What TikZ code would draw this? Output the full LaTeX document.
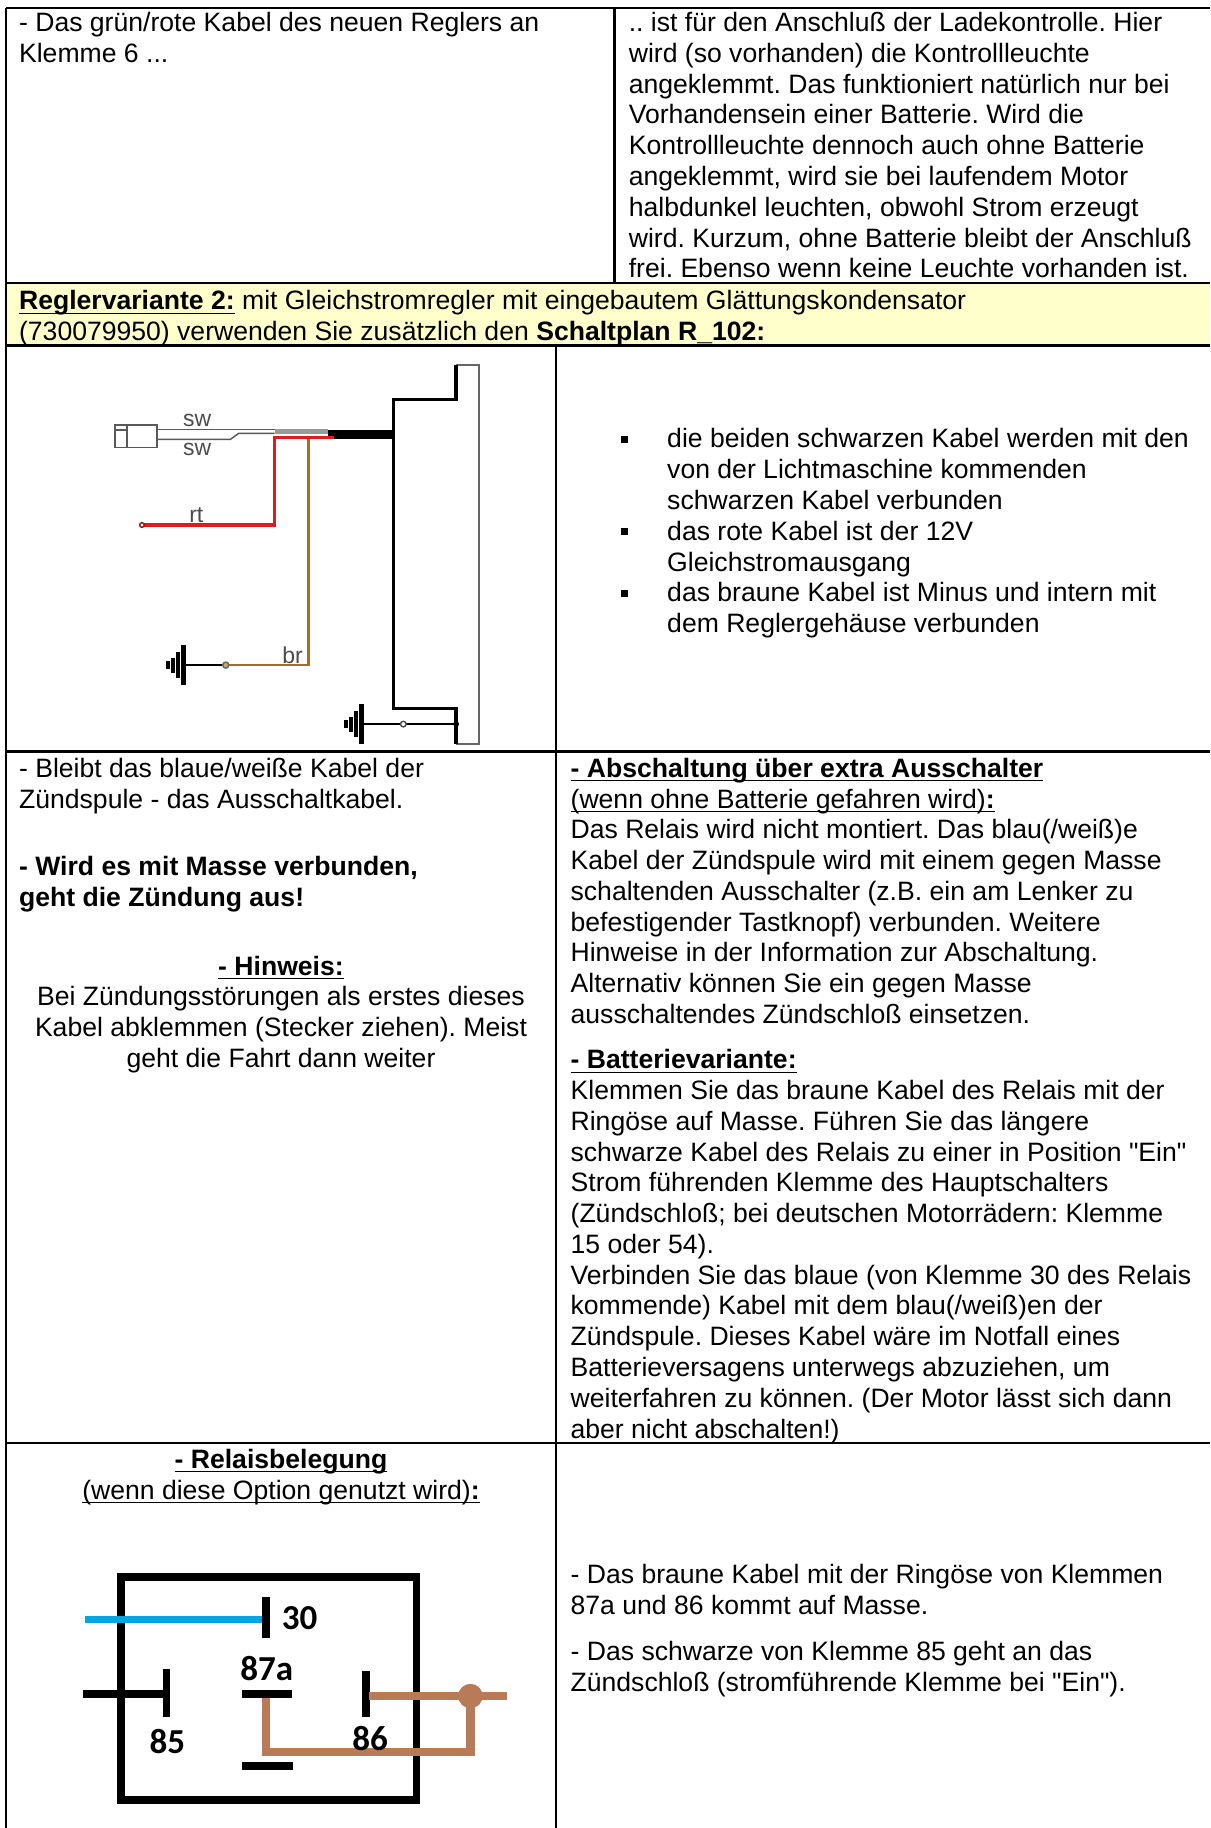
\documentclass[tikz,border=0pt]{standalone}
\usepackage{fontspec}
\setmainfont{Liberation Sans}[Ligatures=TeXOff]
\newfontfamily\relayfont{Carlito}
\usepackage{xcolor}
\usepackage{tikz}

\definecolor{gelbbg}{HTML}{FFFFCC}
\definecolor{kabelblau}{HTML}{00A2E8}
\definecolor{kabelbraun}{RGB}{185,122,87}
\definecolor{drahtrot}{HTML}{DD1C1C}
\definecolor{drahtbraun}{HTML}{A0702A}

\newcommand\ulx[1]{\underline{\smash{#1}}}
\newcommand\dreipunkt{...}
\newcommand\gz{\char34{}}
\frenchspacing

\tikzset{
    txt/.style={inner sep=0pt, font=\fontsize{11}{12.65}\selectfont},
    rahmen/.style={line width=1pt},
    bullet/.style={fill=black, inner sep=0pt, minimum size=2.8pt},
    schlabel/.style={inner sep=0pt, font=\fontsize{9.5}{11}\selectfont, text=black!70},
    relaylabel/.style={inner sep=0pt, font=\relayfont\bfseries\fontsize{14.5}{16}\selectfont},
    relaybar/.style={line width=3.2pt},
    braun/.style={kabelbraun, line width=3.4pt}
}

\begin{document}
\begin{tikzpicture}[x=0.4815pt, y=-0.4815pt]

        \newcommand\lsk{26.45}

        % Textzeilen: Name, x, erste Grundlinie, Anker, Zeilen
        \newcommand{\textrows}[5]{
            \foreach \zeile [count=\i from 0] in {#5}
                \node[txt, anchor=#4] (#1-\i) at (#2, #3+\i*\lsk) {\zeile};
        }

        % Massesymbol (liegend)
        \newcommand{\massesym}[2]{
            \draw[line width=2pt] (#1,#2-17) -- (#1,#2+17);
            \draw[line width=1.8pt] (#1-5,#2-11.5) -- (#1-5,#2+11.5);
            \draw[line width=1.6pt] (#1-9.5,#2-6.5) -- (#1-9.5,#2+6.5);
            \draw[line width=1.4pt] (#1-13.5,#2-3.5) -- (#1-13.5,#2+3.5);
        }

        \useasboundingbox (0,0) rectangle (1040,1571);
        \fill[white] (0,0) rectangle (1040,1571);

        % Tabelle
        \fill[gelbbg] (5,243) rectangle (1040,297);
        \draw[rahmen] (5,7) -- (1040,7);
        \draw[rahmen] (5,243) -- (1040,243);
        \draw[rahmen] (5,297) -- (1040,297);
        \draw[rahmen] (5,646) -- (1040,646);
        \draw[rahmen] (5,1240) -- (1040,1240);
        \draw[rahmen] (5,7) -- (5,1571);
        \draw[rahmen] (528,7) -- (528,243);
        \draw[rahmen] (478,297) -- (478,1571);

        % Zeile 1
        \textrows{zlinks}{16}{27.2}{base west}{
            {- Das grün/rote Kabel des neuen Reglers an},
            {Klemme 6 \dreipunkt}}
        \textrows{zrechts}{540}{27.2}{base west}{
            {.. ist für den Anschluß der Ladekontrolle. Hier},
            {wird (so vorhanden) die Kontrollleuchte},
            {angeklemmt. Das funktioniert natürlich nur bei},
            {Vorhandensein einer Batterie. Wird die},
            {Kontrollleuchte dennoch auch ohne Batterie},
            {angeklemmt, wird sie bei laufendem Motor},
            {halbdunkel leuchten, obwohl Strom erzeugt},
            {wird. Kurzum, ohne Batterie bleibt der Anschluß},
            {frei. Ebenso wenn keine Leuchte vorhanden ist.}}

        % gelbe Zeile
        \textrows{variante}{16}{266.4}{base west}{
            {\textbf{\ulx{Reglervariante 2:}} mit Gleichstromregler mit eingebautem Glättungskondensator},
            {(730079950) verwenden Sie zusätzlich den \textbf{Schaltplan R\_102:}}}

        % Schaltplan R_102
        \draw[black!60, line width=0.8pt] (392,313.7) -- (412,313.7) -- (412,639) -- (392,639);
        \draw[line width=1.5pt] (392,313.7) -- (392,343.2) -- (338.3,343.2) -- (338.3,608.8)
            -- (392,608.8) -- (392,639);
        \draw[black!65, line width=0.7pt] (98.8,365.3) rectangle (135,384.5);
        \draw[black!65, line width=0.7pt] (109,365.3) -- (109,384.5);
        \draw[black!65, line width=0.7pt] (98.8,369.6) -- (109,369.6);
        \draw[black!65, line width=0.6pt] (135,369) -- (236,369);
        \draw[black!65, line width=0.6pt] (135,377.6) -- (198,377.6) -- (205,372.5) -- (236,372.5);
        \draw[black!40, line width=2pt] (236,371) -- (282,371);
        \draw[line width=3.8pt] (282,373.5) -- (338.3,373.5);
        \draw[drahtrot, line width=1.5pt] (287,376) -- (236,376) -- (236,451.2) -- (124,451.2);
        \draw[drahtrot!70!black, line width=0.6pt, fill=white] (122,451.2) circle (2);
        \draw[drahtbraun, line width=1pt] (265,377) -- (265,571.6) -- (196.5,571.6);
        \draw[line width=1pt] (191.5,571.6) -- (158,571.6);
        \draw[black!60, line width=0.6pt, fill=drahtbraun!60] (194,571.6) circle (2.6);
        \massesym{158}{571.6}
        \draw[line width=0.8pt] (311,622.3) -- (392,622.3);
        \draw[black!70, line width=0.6pt, fill=white] (346.6,622.3) circle (2.4);
        \fill (392,622.3) circle (2.5);
        \massesym{311}{622.3}
        \node[schlabel] (sw1) at (169.5,361.5) {sw};
        \node[schlabel] (sw2) at (169.5,386.5) {sw};
        \node[schlabel] (rt) at (168.7,443) {rt};
        \node[schlabel] (br) at (251.5,563) {br};

        % Aufzaehlung rechts
        \node[bullet] (punkt1) at (537,378) {};
        \node[bullet] (punkt2) at (537,457) {};
        \node[bullet] (punkt3) at (537,510) {};
        \textrows{liste}{573}{385}{base west}{
            {die beiden schwarzen Kabel werden mit den},
            {von der Lichtmaschine kommenden},
            {schwarzen Kabel verbunden},
            {das rote Kabel ist der 12V},
            {Gleichstromausgang},
            {das braune Kabel ist Minus und intern mit},
            {dem Reglergehäuse verbunden}}

        % Zeile 4 links
        \textrows{blau}{16}{668}{base west}{
            {- Bleibt das blaue/weiße Kabel der},
            {Zündspule - das Ausschaltkabel.}}
        \textrows{masse}{16}{752.5}{base west}{
            {\textbf{- Wird es mit Masse verbunden,}},
            {\textbf{geht die Zündung aus!}}}
        \textrows{hinweis}{241.5}{838}{base}{
            {\textbf{\ulx{- Hinweis:}}},
            {Bei Zündungsstörungen als erstes dieses},
            {Kabel abklemmen (Stecker ziehen). Meist},
            {geht die Fahrt dann weiter}}

        % Zeile 4 rechts
        \textrows{abschalt}{490}{668}{base west}{
            {\textbf{\ulx{- Abschaltung über extra Ausschalter}}},
            {\ulx{(wenn ohne Batterie gefahren wird)\textbf{:}}},
            {Das Relais wird nicht montiert. Das blau(/weiß)e},
            {Kabel der Zündspule wird mit einem gegen Masse},
            {schaltenden Ausschalter (z.B. ein am Lenker zu},
            {befestigender Tastknopf) verbunden. Weitere},
            {Hinweise in der Information zur Abschaltung.},
            {Alternativ können Sie ein gegen Masse},
            {ausschaltendes Zündschloß einsetzen.}}
        \textrows{batterie}{490}{918.5}{base west}{
            {\textbf{\ulx{- Batterievariante:}}},
            {Klemmen Sie das braune Kabel des Relais mit der},
            {Ringöse auf Masse. Führen Sie das längere},
            {schwarze Kabel des Relais zu einer in Position \gz Ein\gz},
            {Strom führenden Klemme des Hauptschalters},
            {(Zündschloß; bei deutschen Motorrädern: Klemme},
            {15 oder 54).},
            {Verbinden Sie das blaue (von Klemme 30 des Relais},
            {kommende) Kabel mit dem blau(/weiß)en der},
            {Zündspule. Dieses Kabel wäre im Notfall eines},
            {Batterieversagens unterwegs abzuziehen, um},
            {weiterfahren zu können. (Der Motor lässt sich dann},
            {aber nicht abschalten!)}}

        % Zeile 5 links: Relais
        \textrows{relais}{241.5}{1262}{base}{
            {\textbf{\ulx{- Relaisbelegung}}},
            {\ulx{(wenn diese Option genutzt wird)\textbf{:}}}}
        \draw[line width=3.2pt] (104,1355) rectangle (358,1547);
        \draw[kabelblau, line width=2.9pt] (73,1391.4) -- (228.8,1391.4);
        \draw[relaybar] (228.8,1372.5) -- (228.8,1407.4);
        \draw[relaybar] (71.5,1455.6) -- (143,1455.6);
        \draw[relaybar] (143,1434.6) -- (143,1475.6);
        \draw[relaybar] (208,1455.6) -- (250.6,1455.6);
        \draw[relaybar] (208,1517.7) -- (252,1517.7);
        \draw[relaybar] (314.7,1436) -- (314.7,1475.6);
        \draw[braun] (317.5,1457.6) -- (435.6,1457.6);
        \draw[braun] (404.3,1457.6) -- (404.3,1505.7) -- (228.5,1505.7) -- (228.5,1459);
        \fill[kabelbraun] (404.3,1457.6) circle (10.5);
        \node[relaylabel] (k30) at (257.5,1391) {30};
        \node[relaylabel] (k87a) at (229.3,1434) {87a};
        \node[relaylabel] (k85) at (143.8,1497) {85};
        \node[relaylabel] (k86) at (318,1494) {86};

        % Zeile 5 rechts
        \textrows{braunk}{490}{1361}{base west}{
            {- Das braune Kabel mit der Ringöse von Klemmen},
            {87a und 86 kommt auf Masse.}}
        \textrows{schwarzk}{490}{1427}{base west}{
            {- Das schwarze von Klemme 85 geht an das},
            {Zündschloß (stromführende Klemme bei \gz Ein\gz).}}

\end{tikzpicture}
\end{document}
